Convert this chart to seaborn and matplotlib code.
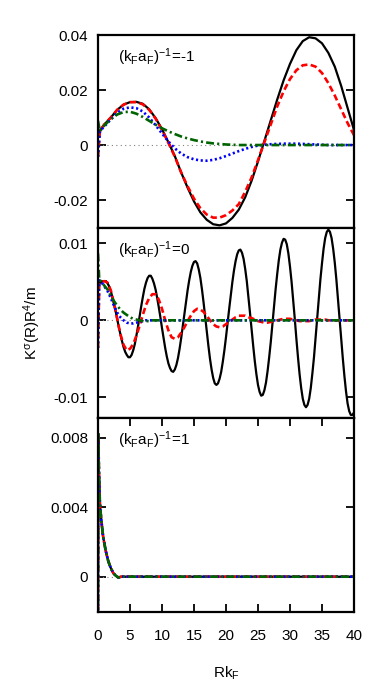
import numpy as np
import pandas as pd
import matplotlib
matplotlib.use("Agg")
import matplotlib.pyplot as plt
import seaborn as sns

sns.set_style("ticks", {"axes.edgecolor": "black", "text.color": "black",
                        "xtick.color": "black", "ytick.color": "black",
                        "axes.labelcolor": "black"})
plt.rcParams['font.family'] = ['Liberation Sans', 'DejaVu Sans']
plt.rcParams['mathtext.fontset'] = 'custom'
plt.rcParams['mathtext.rm'] = 'Liberation Sans'
plt.rcParams['mathtext.it'] = 'Liberation Sans'
plt.rcParams['mathtext.sf'] = 'Liberation Sans'

# ---- panel 1: (kFaF)^-1 = -1 ----
x1 = [0, 0.3] + list(range(1, 41))
black1 = [0.0050, 0.0053, 0.0075, 0.0100, 0.0128, 0.0147, 0.0156, 0.0157, 0.0150, 0.0130,
          0.0098, 0.0058, 0.0010, -0.0040, -0.0100, -0.0155, -0.0205, -0.0245, -0.0272, -0.0288,
          -0.0292, -0.0285, -0.0265, -0.0235, -0.0190, -0.0130, -0.0060, 0.0015, 0.0090, 0.0165,
          0.0235, 0.0295, 0.0345, 0.0378, 0.0392, 0.0388, 0.0370, 0.0335, 0.0285, 0.0215,
          0.0135, 0.0055]
red1 = [-0.0043, 0.0053, 0.0075, 0.0100, 0.0128, 0.0147, 0.0156, 0.0156, 0.0148, 0.0128,
        0.0096, 0.0055, 0.0008, -0.0042, -0.0100, -0.0150, -0.0195, -0.0230, -0.0253, -0.0264,
        -0.0264, -0.0255, -0.0238, -0.0215, -0.0170, -0.0118, -0.0055, 0.0010, 0.0075, 0.0140,
        0.0195, 0.0240, 0.0272, 0.0290, 0.0293, 0.0285, 0.0262, 0.0225, 0.0180, 0.0130,
        0.0080, 0.0036]
blue1 = [-0.0043, 0.0050, 0.0068, 0.0093, 0.0117, 0.0132, 0.0137, 0.0134, 0.0122, 0.0100,
         0.0072, 0.0042, 0.0013, -0.0012, -0.0031, -0.0044, -0.0052, -0.0056, -0.0057, -0.0054,
         -0.0048, -0.0040, -0.0031, -0.0022, -0.0014, -0.0007, -0.0002, 0.0001, 0.0003, 0.0004,
         0.0005, 0.0005, 0.0005, 0.0004, 0.0003, 0.0002, 0.0001, 0.0, 0.0, 0.0,
         0.0, 0.0]
green1 = [0.0088, 0.0050, 0.0072, 0.0094, 0.0111, 0.0120, 0.0121, 0.0114, 0.0102, 0.0088,
          0.0074, 0.0061, 0.0050, 0.0040, 0.0031, 0.0024, 0.0018, 0.0013, 0.0009, 0.0006,
          0.0004, 0.0002, 0.0001, 0.0, 0.0, 0.0, 0.0, 0.0, 0.0, 0.0,
          0.0, 0.0, 0.0, 0.0, 0.0, 0.0, 0.0, 0.0, 0.0, 0.0,
          0.0, 0.0]

# ---- panel 2: (kFaF)^-1 = 0 ----
# black curve is read on a finer grid (fast oscillation)
xb2 = [0, 0.2] + [0.5 + 0.25 * i for i in range(159)]
black2 = [0.0046, 0.0048,
          0.0050, 0.0051, 0.0051, 0.0051, 0.0048, 0.0044, 0.0038, 0.0030, 0.0021, 0.0012,
          0.0002, -0.0009, -0.0018, -0.0027, -0.0035, -0.0041, -0.0045, -0.0048, -0.0048, -0.0045,
          -0.0039, -0.0031, -0.0020, -0.0008, 0.0005, 0.0018, 0.0030, 0.0041, 0.0049, 0.0055,
          0.0058, 0.0058, 0.0054, 0.0048, 0.0040, 0.0029, 0.0017, 0.0004, -0.0010, -0.0023,
          -0.0036, -0.0047, -0.0056, -0.0062, -0.0066, -0.0067, -0.0064, -0.0058, -0.0049, -0.0037,
          -0.0023, -0.0008, 0.0008, 0.0024, 0.0039, 0.0052, 0.0063, 0.0071, 0.0076, 0.0077,
          0.0074, 0.0066, 0.0055, 0.0040, 0.0023, 0.0004, -0.0015, -0.0033, -0.0050, -0.0064,
          -0.0075, -0.0082, -0.0084, -0.0082, -0.0076, -0.0067, -0.0054, -0.0039, -0.0022, -0.0003,
          0.0015, 0.0033, 0.0050, 0.0065, 0.0077, 0.0086, 0.0091, 0.0092, 0.0088, 0.0080,
          0.0067, 0.0051, 0.0031, 0.0010, -0.0012, -0.0033, -0.0053, -0.0070, -0.0084, -0.0093,
          -0.0098, -0.0097, -0.0091, -0.0081, -0.0066, -0.0048, -0.0028, -0.0005, 0.0018, 0.0040,
          0.0060, 0.0078, 0.0092, 0.0101, 0.0106, 0.0105, 0.0099, 0.0087, 0.0070, 0.0050,
          0.0026, 0.0002, -0.0024, -0.0048, -0.0070, -0.0088, -0.0102, -0.0110, -0.0113, -0.0110,
          -0.0102, -0.0088, -0.0069, -0.0048, -0.0023, 0.0003, 0.0028, 0.0053, 0.0074, 0.0093,
          0.0107, 0.0115, 0.0118, 0.0115, 0.0107, 0.0093, 0.0075, 0.0053, 0.0028, 0.0002,
          -0.0024, -0.0049, -0.0072, -0.0092, -0.0108, -0.0118, -0.0123, -0.0123, -0.0120]

x2 = [0, 0.2] + [0.5 * i for i in range(1, 81)]
red2 = [-0.0036, 0.0048, 0.0050, 0.0051, 0.0049, 0.0039, 0.0022, 0.0002, -0.0018, -0.0032,
        -0.0039, -0.0037, -0.0031, -0.0020, -0.0007, 0.0007, 0.0020, 0.0029, 0.0034, 0.0034,
        0.0027, 0.0015, 0.0000, -0.0013, -0.0022, -0.0024, -0.0022, -0.0016, -0.0009, -0.0001,
        0.0006, 0.0012, 0.0015, 0.0014, 0.0011, 0.0006, 0.0000, -0.0005, -0.0008, -0.0009,
        -0.0008, -0.0005, -0.0002, 0.0001, 0.0004, 0.0006, 0.0006, 0.0006, 0.0004, 0.0003,
        0.0001, -0.0001, -0.0002, -0.0003, -0.0003, -0.0002, -0.0001, 0.0000, 0.0001, 0.0002,
        0.0002, 0.0002, 0.0001, 0.0000, -0.0001, -0.0001, -0.0001, -0.0001, 0.0000, 0.0001,
        0.0001, 0.0001, 0.0001, 0.0000, 0.0, 0.0, 0.0, 0.0, 0.0, 0.0,
        0.0, 0.0]
blue2 = [-0.0036, 0.0052, 0.0050, 0.0044, 0.0038, 0.0029, 0.0019, 0.0010, 0.0004, 0.0000,
         -0.0003, -0.0004, -0.0004, -0.0003, -0.0002, -0.0001, 0.0000, 0.0, 0.0, 0.0,
         0.0, 0.0, 0.0, 0.0, 0.0, 0.0, 0.0, 0.0, 0.0, 0.0,
         0.0, 0.0, 0.0, 0.0, 0.0, 0.0, 0.0, 0.0, 0.0, 0.0,
         0.0, 0.0, 0.0, 0.0, 0.0, 0.0, 0.0, 0.0, 0.0, 0.0,
         0.0, 0.0, 0.0, 0.0, 0.0, 0.0, 0.0, 0.0, 0.0, 0.0,
         0.0, 0.0, 0.0, 0.0, 0.0, 0.0, 0.0, 0.0, 0.0, 0.0,
         0.0, 0.0, 0.0, 0.0, 0.0, 0.0, 0.0, 0.0, 0.0, 0.0,
         0.0, 0.0]
green2 = [0.0087, 0.0052, 0.0051, 0.0045, 0.0040, 0.0032, 0.0025, 0.0019, 0.0014, 0.0010,
          0.0007, 0.0004, 0.0002, 0.0001, 0.0000, -0.0001, -0.0001, -0.0001, 0.0000, 0.0,
          0.0, 0.0, 0.0, 0.0, 0.0, 0.0, 0.0, 0.0, 0.0, 0.0,
          0.0, 0.0, 0.0, 0.0, 0.0, 0.0, 0.0, 0.0, 0.0, 0.0,
          0.0, 0.0, 0.0, 0.0, 0.0, 0.0, 0.0, 0.0, 0.0, 0.0,
          0.0, 0.0, 0.0, 0.0, 0.0, 0.0, 0.0, 0.0, 0.0, 0.0,
          0.0, 0.0, 0.0, 0.0, 0.0, 0.0, 0.0, 0.0, 0.0, 0.0,
          0.0, 0.0, 0.0, 0.0, 0.0, 0.0, 0.0, 0.0, 0.0, 0.0,
          0.0, 0.0]

# ---- panel 3: (kFaF)^-1 = 1 (all four curves coincide) ----
x3 = [0, 0.05, 0.15, 0.3, 0.5, 0.8, 1.2, 1.6, 2.0, 2.4, 2.8, 3.2, 3.6, 4.0, 5, 10, 20, 30, 40]
y3 = [-0.0025, 0.0082, 0.0060, 0.0042, 0.0033, 0.0023, 0.0015, 0.0009, 0.0005, 0.0002,
      0.00005, -0.00005, 0.0, 0.0, 0.0, 0.0, 0.0, 0.0, 0.0]

panel_labels = [r"(k$_{\mathrm{F}}$a$_{\mathrm{F}}$)$^{\mathrm{-1}}$=-1",
                r"(k$_{\mathrm{F}}$a$_{\mathrm{F}}$)$^{\mathrm{-1}}$=0",
                r"(k$_{\mathrm{F}}$a$_{\mathrm{F}}$)$^{\mathrm{-1}}$=1"]
yticks = [[-0.02, 0, 0.02, 0.04], [-0.01, 0, 0.01], [0, 0.004, 0.008]]
yticklabels = [["-0.02", "0", "0.02", "0.04"], ["-0.01", "0", "0.01"], ["0", "0.004", "0.008"]]
ylims = [(-0.0302, 0.040), (-0.0127, 0.0120), (-0.00203, 0.00913)]
xticks = [0, 5, 10, 15, 20, 25, 30, 35, 40]

styles = [dict(color="black", lw=1.6, ls="-"),
          dict(color="red", lw=1.9, ls=(0, (2.4, 1.3))),
          dict(color="blue", lw=1.9, ls=(0, (0.8, 1.0))),
          dict(color="#006400", lw=1.9, ls=(0, (3.0, 1.2, 0.8, 1.2)))]

fig = plt.figure(figsize=(3.92, 6.87), dpi=100)
boxes = [[0.25, 0.668, 0.653, 0.281],
         [0.25, 0.3916, 0.653, 0.2764],
         [0.25, 0.1092, 0.653, 0.2824]]
axes = [fig.add_axes(b) for b in boxes]

data = [[(x1, black1), (x1, red1), (x1, blue1), (x1, green1)],
        [(xb2, black2), (x2, red2), (x2, blue2), (x2, green2)],
        [(x3, y3), (x3, y3), (x3, y3), (x3, y3)]]

for i, ax in enumerate(axes):
    ax.axhline(0, color="gray", lw=0.8, ls=(0, (1, 3)), zorder=1)
    for (xs, ys), st in zip(data[i], styles):
        df = pd.DataFrame({"x": xs, "y": ys})
        sns.lineplot(data=df, x="x", y="y", ax=ax, estimator=None, sort=False,
                     color=st["color"], lw=st["lw"], linestyle=st["ls"])
    ax.set_xlim(0, 40)
    ax.set_ylim(*ylims[i])
    ax.set_yticks(yticks[i])
    ax.set_yticklabels(yticklabels[i])
    ax.set_xlabel("")
    ax.set_ylabel("")
    for sp in ax.spines.values():
        sp.set_linewidth(1.6)
        sp.set_color("black")
        sp.set_visible(True)
    ax.tick_params(axis="y", direction="in", length=6, width=1.3, left=True, right=True,
                   labelsize=11, pad=7, colors="black")
    ax.text(0.08, 0.885, panel_labels[i], transform=ax.transAxes, fontsize=11,
            ha="left", va="center", color="black")
    if i < 2:
        ax.tick_params(axis="x", bottom=False, top=False, labelbottom=False)
    else:
        ax.set_xticks(xticks)
        ax.set_xticklabels([str(t) for t in xticks])
        ax.tick_params(axis="x", direction="in", length=6, width=1.3, bottom=True, top=True,
                       labelsize=11, pad=12, colors="black")

axes[1].set_ylabel(r"K$^{\sigma}$(R)R$^{4}$/m", fontsize=11, color="black")
axes[1].yaxis.set_label_coords(-0.215, 0.5)
axes[2].set_xlabel(r"Rk$_{\mathrm{F}}$", fontsize=11, color="black")
axes[2].xaxis.set_label_coords(0.5, -0.27)

fig.savefig("out.png", dpi=100)
